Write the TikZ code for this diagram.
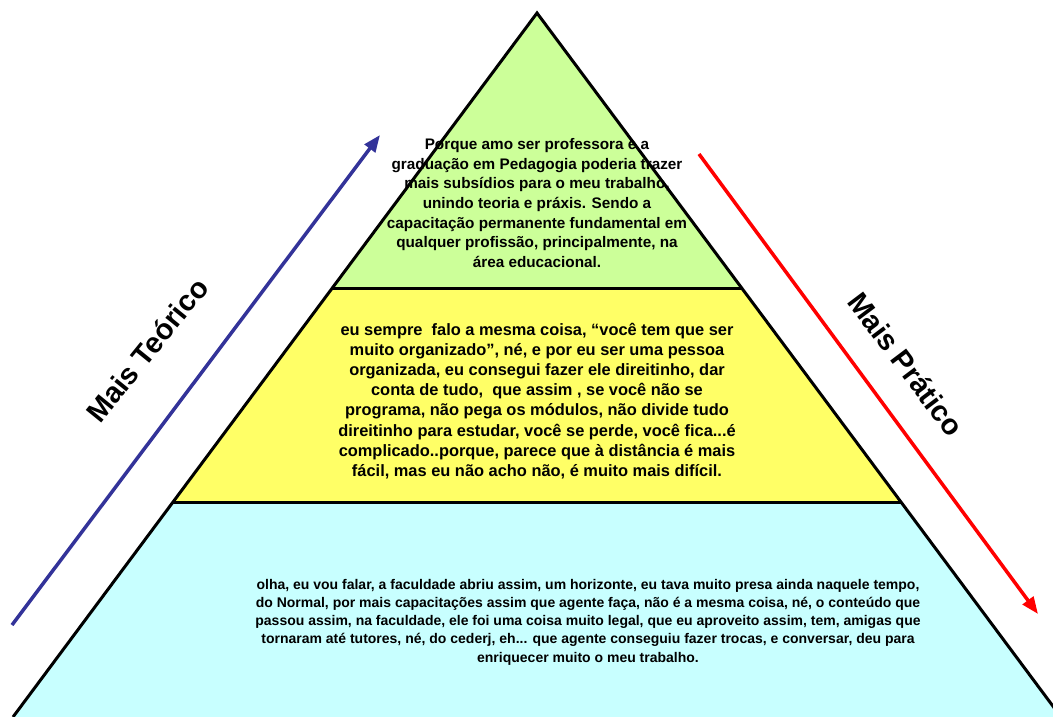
\documentclass[tikz,border=0pt]{standalone}
\usepackage{fontspec}
\setmainfont{Liberation Sans}
\usetikzlibrary{arrows.meta,calc}
\definecolor{topgreen}{HTML}{CCFF99}
\definecolor{midyellow}{HTML}{FFFF66}
\definecolor{lowcyan}{HTML}{C8FFFF}
\definecolor{theoblue}{HTML}{333399}
\tikzset{
  level/.style={align=center,inner sep=0pt},
  side/.style={line width=3.5pt,-{Triangle[length=17pt,width=13pt]}},
  sidelabel/.style={font=\bfseries\fontsize{29}{29}\selectfont,inner sep=0pt}
}
\begin{document}
\begin{tikzpicture}[x=1pt,y=-1pt]
\useasboundingbox (0,0) rectangle (1053,717);
\clip (0,0) rectangle (1053,717);
\coordinate (A) at (537,13);
\coordinate (B) at (13,717);
\coordinate (C) at (1061,717);
\coordinate (B1) at ($(A)!0.392!(B)$);
\coordinate (C1) at ($(A)!0.392!(C)$);
\coordinate (B2) at ($(A)!0.696!(B)$);
\coordinate (C2) at ($(A)!0.696!(C)$);
\fill[lowcyan](B2)--(C2)--(C)--(B)--cycle;
\fill[midyellow](B1)--(C1)--(C2)--(B2)--cycle;
\fill[topgreen](A)--(C1)--(B1)--cycle;

\node[level,font=\bfseries\fontsize{15.3}{19.6}\selectfont] (top) at (537,203) {Porque amo ser professora e a\\
graduação em Pedagogia poderia trazer\\
mais subsídios para o meu trabalho,\\
unindo teoria e práxis. Sendo a\\
capacitação permanente fundamental em\\
qualquer profissão, principalmente, na\\
área educacional.};
\node[level,font=\bfseries\fontsize{16.4}{20.1}\selectfont] (mid) at (537,401) {eu sempre\ \ falo a mesma coisa, “você tem que ser\\
muito organizado”, né, e por eu ser uma pessoa\\
organizada, eu consegui fazer ele direitinho, dar\\
conta de tudo,\ \ que assim , se você não se\\
programa, não pega os módulos, não divide tudo\\
direitinho para estudar, você se perde, você fica...é\\
complicado..porque, parece que à distância é mais\\
fácil, mas eu não acho não, é muito mais difícil.};
\node[level,font=\bfseries\fontsize{14}{18.3}\selectfont] (low) at (588,622) {olha, eu vou falar, a faculdade abriu assim, um horizonte, eu tava muito presa ainda naquele tempo,\\
do Normal, por mais capacitações assim que agente faça, não é a mesma coisa, né, o conteúdo que\\
passou assim, na faculdade, ele foi uma coisa muito legal, que eu aproveito assim, tem, amigas que\\
tornaram até tutores, né, do cederj, eh... que agente conseguiu fazer trocas, e conversar, deu para\\
enriquecer muito o meu trabalho.};

\draw[line width=3pt](B)--(A)--(C);
\draw[line width=3pt](B1)--(C1)(B2)--(C2);

\coordinate (theoS) at (12,625);
\coordinate (theoE) at (380,135);
\coordinate (pratS) at (699,154);
\coordinate (pratE) at (1038,614);
\draw[side,theoblue](theoS)--(theoE);
\draw[side,red](pratS)--(pratE);
\node[sidelabel,rotate=51] (theo) at (147,350) {Mais Teórico};
\node[sidelabel,rotate=-53] (prat) at (906,364) {Mais Prático};
\end{tikzpicture}
\end{document}
